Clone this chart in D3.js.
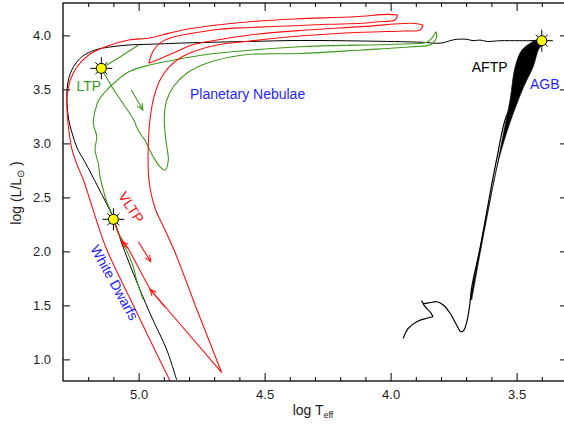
<!DOCTYPE html>
<html>
<head>
<meta charset="utf-8">
<script src="https://cdn.jsdelivr.net/npm/d3@7"></script>
<style>
body { margin: 0; background: #fff; }
svg text { font-family: "Liberation Sans", Arial, sans-serif; }
</style>
</head>
<body>
<svg id="chart" width="564" height="426"></svg>
<script>
// all points are [log Teff, log L/Lsun]
const preAgbTrack = [
  [3.950,1.195],[3.930,1.288],[3.896,1.349],[3.857,1.381],[3.831,1.395],[3.844,1.442],
  [3.863,1.488],[3.877,1.544],[3.870,1.519],[3.846,1.525],[3.817,1.534],[3.791,1.504],
  [3.764,1.427],[3.738,1.319],[3.721,1.256],[3.709,1.272],[3.696,1.365],[3.685,1.519],
  [3.678,1.670],[3.645,2.031],[3.610,2.476],[3.578,2.865],[3.542,3.244],[3.498,3.439],
  [3.447,3.707],[3.407,3.939]
];
const preAgbCusps = [4, 7];
const pulsesHot = [
  [3.685,1.550],[3.651,1.960],[3.619,2.337],[3.585,2.707],[3.552,3.096],[3.526,3.402],
  [3.506,3.707],[3.479,3.865],[3.435,3.942],[3.407,3.967]
];
const pulsesCool = [
  [3.395,3.939],[3.414,3.865],[3.434,3.710],[3.463,3.569],[3.490,3.420],[3.540,3.096],
  [3.578,2.781],[3.612,2.383],[3.646,1.967],[3.678,1.550]
];
const postAgbTrack = [
  [3.400,3.951],[3.487,3.951],[3.566,3.951],[3.617,3.944],[3.645,3.957],[3.673,3.951],
  [3.697,3.964],[3.737,3.964],[3.764,3.951],[3.792,3.932],[3.816,3.927],[3.875,3.936],
  [4.113,3.948],[4.360,3.953],[4.558,3.944],[4.788,3.932],[4.955,3.918],[5.039,3.911],
  [5.113,3.893],[5.172,3.865],[5.225,3.803],[5.258,3.710],[5.277,3.603],[5.284,3.494],
  [5.284,3.371],[5.277,3.217],[5.264,3.096],[5.244,2.957],[5.213,2.828],[5.161,2.596],
  [5.100,2.306],[5.067,2.075],[5.021,1.797],[4.955,1.427],[4.888,1.087],[4.849,0.809]
];
const ltpTrack = [
  [5.000,3.911],[5.074,3.800],[5.148,3.695],[5.106,3.525],[5.053,3.340],[5.019,3.217],
  [5.006,3.143],[4.987,3.069],[4.975,3.031],[4.962,2.969],[4.942,2.877],[4.915,2.784],
  [4.895,2.754],[4.882,2.846],[4.888,2.969],[4.895,3.094],[4.898,3.247],[4.888,3.402],
  [4.862,3.525],[4.809,3.649],[4.730,3.742],[4.585,3.819],[4.360,3.832],[4.115,3.865],
  [3.916,3.895],[3.837,3.918],[3.817,3.988],[3.820,4.034],[3.837,3.973],[3.857,3.936],
  [3.983,3.918],[4.247,3.905],[4.360,3.895],[4.690,3.834],[4.823,3.788],[4.955,3.726],
  [5.039,3.664],[5.092,3.571],[5.132,3.479],[5.158,3.402],[5.172,3.309],[5.180,3.186],
  [5.166,3.062],[5.173,2.939],[5.160,2.816],[5.153,2.692],[5.140,2.569],[5.127,2.460],
  [5.107,2.353],[5.081,2.168],[5.054,2.044],[5.021,1.858],[5.008,1.735],[4.981,1.550]
];
const ltpCusps = [2, 27];
const vltpTrack = [
  [5.100,2.297],[5.074,2.143],[5.042,2.031],[4.955,1.652],[4.670,0.877],[4.776,1.504],
  [4.856,1.994],[4.895,2.198],[4.935,2.402],[4.959,2.661],[4.962,2.939],[4.955,3.217],
  [4.939,3.430],[4.915,3.587],[4.883,3.698],[4.836,3.791],[4.776,3.856],[4.689,3.911],
  [4.558,3.948],[4.360,3.994],[4.113,4.029],[3.943,4.041],[3.883,4.050],[3.871,4.096],
  [3.915,4.112],[4.113,4.081],[4.360,4.045],[4.558,4.004],[4.689,3.957],[4.788,3.911],
  [4.844,3.856],[4.907,3.791],[4.960,3.742],[4.940,3.865],[4.907,3.942],[4.856,3.988],
  [4.788,4.019],[4.689,4.055],[4.558,4.073],[4.379,4.090],[4.248,4.103],[4.113,4.112],
  [4.050,4.127],[3.983,4.143],[3.972,4.189],[4.010,4.195],[4.141,4.173],[4.379,4.152],
  [4.558,4.127],[4.689,4.096],[4.824,4.050],[4.907,4.004],[4.955,3.976],[5.039,3.957],
  [5.132,3.895],[5.198,3.819],[5.244,3.710],[5.271,3.587],[5.284,3.432],[5.284,3.309],
  [5.277,3.124],[5.264,2.939],[5.244,2.800],[5.219,2.661],[5.193,2.476],[5.165,2.272],
  [5.129,2.031],[5.074,1.754],[5.014,1.467],[4.947,1.143],[4.875,0.800]
];
const vltpCusps = [2, 3, 4, 5, 23, 32, 44];
const stars = [[5.148,3.695],[5.100,2.297],[3.400,3.951]];
const arrows = [
  {from:[5.029,3.494], to:[4.983,3.309], color:"green"},
  {from:[5.001,2.090], to:[4.952,1.905], color:"red"},
  {from:[4.895,1.485], to:[4.955,1.650], color:"red"},
  {from:[5.042,2.031], to:[5.067,2.090], color:"red"}
];
const labels = [
  {text:"LTP", at:[5.198,3.485], color:"green", anchor:"middle", rot:0},
  {text:"Planetary Nebulae", at:[4.796,3.411], color:"blue", anchor:"start", rot:0},
  {text:"AFTP", at:[3.678,3.661], color:"black", anchor:"start", rot:0},
  {text:"AGB", at:[3.447,3.504], color:"blue", anchor:"start", rot:0},
  {text:"VLTP", at:[5.046,2.383], color:"red", anchor:"middle", rot:57},
  {text:"White Dwarfs", at:[5.113,1.689], color:"blue", anchor:"middle", rot:61}
];
const xMajor = [5.0, 4.5, 4.0, 3.5];
const xMinor = [5.2,5.1,4.9,4.8,4.7,4.6,4.4,4.3,4.2,4.1,3.9,3.8,3.7,3.6,3.4];
const yMajor = [1.0, 1.5, 2.0, 2.5, 3.0, 3.5, 4.0];

const colors = {black:"#000", red:"#ff1010", green:"#3c9a1a", blue:"#1f1fff"};

const svg = d3.select("#chart");
const pLeft = 63, pRight = 567, pTop = 3, pBottom = 381;
const x = d3.scaleLinear().domain([5.3, 3.3]).range([pLeft, pRight]);
const y = d3.scaleLinear().domain([0.8, 4.3]).range([pBottom, pTop]);

svg.append("defs").append("clipPath").attr("id", "plot")
  .append("rect").attr("x", pLeft).attr("y", pTop)
  .attr("width", pRight - pLeft).attr("height", pBottom - pTop);

const plot = svg.append("g").attr("clip-path", "url(#plot)");

const line = d3.line().x(d => x(d[0])).y(d => y(d[1]))
  .curve(d3.curveCatmullRom.alpha(0.5));

// split a track at its sharp turns so the smoothing keeps them pointed
function pieces(track, cusps) {
  const cuts = [0].concat(cusps, [track.length - 1]);
  return d3.pairs(cuts).map(([a, b]) => track.slice(a, b + 1));
}
function drawTrack(track, cusps, color, width) {
  plot.append("path")
    .attr("d", pieces(track, cusps).map(p => line(p)).join(""))
    .style("fill", "none").style("stroke", color).style("stroke-width", width)
    .style("stroke-linejoin", "miter");
}

// AGB thermal pulse band
plot.append("path")
  .attr("d", line(pulsesHot.concat(pulsesCool)))
  .style("fill", "#000").style("stroke", "#000").style("stroke-width", 0.6);

drawTrack(preAgbTrack, preAgbCusps, "#000", 1.2);
drawTrack(postAgbTrack, [], "#000", 1);
drawTrack(ltpTrack, ltpCusps, colors.green, 1.1);
drawTrack(vltpTrack, vltpCusps, colors.red, 1.1);

// arrows
arrows.forEach(a => {
  const x1 = x(a.from[0]), y1 = y(a.from[1]), x2 = x(a.to[0]), y2 = y(a.to[1]);
  const ang = Math.atan2(y2 - y1, x2 - x1);
  const c = colors[a.color];
  plot.append("line").attr("x1", x1).attr("y1", y1).attr("x2", x2).attr("y2", y2)
    .style("stroke", c).style("stroke-width", 1.1);
  const h = 7, w = 0.4;
  plot.append("path")
    .attr("d", `M${x2 - h*Math.cos(ang - w)},${y2 - h*Math.sin(ang - w)}L${x2},${y2}L${x2 - h*Math.cos(ang + w)},${y2 - h*Math.sin(ang + w)}`)
    .style("fill", "none").style("stroke", c).style("stroke-width", 1.1);
});

// star markers
stars.forEach(s => {
  const g = svg.append("g").attr("transform", `translate(${x(s[0])},${y(s[1])})`);
  d3.range(8).forEach(k => {
    const a = k * Math.PI / 4, r = k % 2 ? 8.5 : 11;
    g.append("line").attr("x1", 0).attr("y1", 0)
      .attr("x2", r*Math.cos(a)).attr("y2", r*Math.sin(a))
      .style("stroke", "#000").style("stroke-width", 1);
  });
  g.append("circle").attr("r", 5).style("fill", "#ffff00").style("stroke", "#000").style("stroke-width", 1);
});

// labels
labels.forEach(l => {
  svg.append("text")
    .attr("transform", `translate(${x(l.at[0])},${y(l.at[1])}) rotate(${l.rot})`)
    .attr("text-anchor", l.anchor)
    .style("font-size", "14px")
    .style("fill", colors[l.color])
    .text(l.text);
});

// axes
const axisStyle = g => {
  g.select(".domain").remove();
  g.selectAll("line").style("stroke", "#000").style("stroke-width", 1);
  g.selectAll("text").style("font-size", "13px").style("fill", "#222")
    .style("font-family", "'Liberation Sans', Arial, sans-serif");
};
svg.append("g").attr("transform", `translate(0,${pBottom})`)
  .call(d3.axisBottom(x).tickValues(xMajor).tickSize(-8).tickPadding(9).tickFormat(d3.format(".1f")))
  .call(axisStyle);
svg.append("g").attr("transform", `translate(0,${pBottom})`)
  .call(d3.axisBottom(x).tickValues(xMinor).tickSize(-4).tickFormat(""))
  .call(axisStyle);
svg.append("g").attr("transform", `translate(0,${pTop})`)
  .call(d3.axisTop(x).tickValues(xMajor).tickSize(-8).tickFormat(""))
  .call(axisStyle);
svg.append("g").attr("transform", `translate(0,${pTop})`)
  .call(d3.axisTop(x).tickValues(xMinor).tickSize(-4).tickFormat(""))
  .call(axisStyle);
svg.append("g").attr("transform", `translate(${pLeft},0)`)
  .call(d3.axisLeft(y).tickValues(yMajor).tickSize(-7).tickPadding(12).tickFormat(d3.format(".1f")))
  .call(axisStyle);
svg.append("g").attr("transform", `translate(${pRight},0)`)
  .call(d3.axisRight(y).tickValues(yMajor).tickSize(-7).tickFormat(""))
  .call(axisStyle);

svg.append("rect").attr("x", pLeft).attr("y", pTop)
  .attr("width", pRight - pLeft).attr("height", pBottom - pTop)
  .style("fill", "none").style("stroke", "#000").style("stroke-width", 1.3);

// axis titles
const xt = svg.append("text").attr("x", 313).attr("y", 415)
  .attr("text-anchor", "middle").style("font-size", "14px").style("fill", "#222");
xt.append("tspan").text("log T");
xt.append("tspan").attr("dy", 3).style("font-size", "9px").text("eff");

const yt = svg.append("text")
  .attr("transform", "translate(21,193) rotate(-90)")
  .attr("text-anchor", "middle").style("font-size", "14px").style("fill", "#222");
yt.append("tspan").text("log (L/L");
yt.append("tspan").attr("dy", 3).style("font-size", "10px").text("\u2299");
yt.append("tspan").attr("dy", -3).text(" )");
</script>
</body>
</html>
